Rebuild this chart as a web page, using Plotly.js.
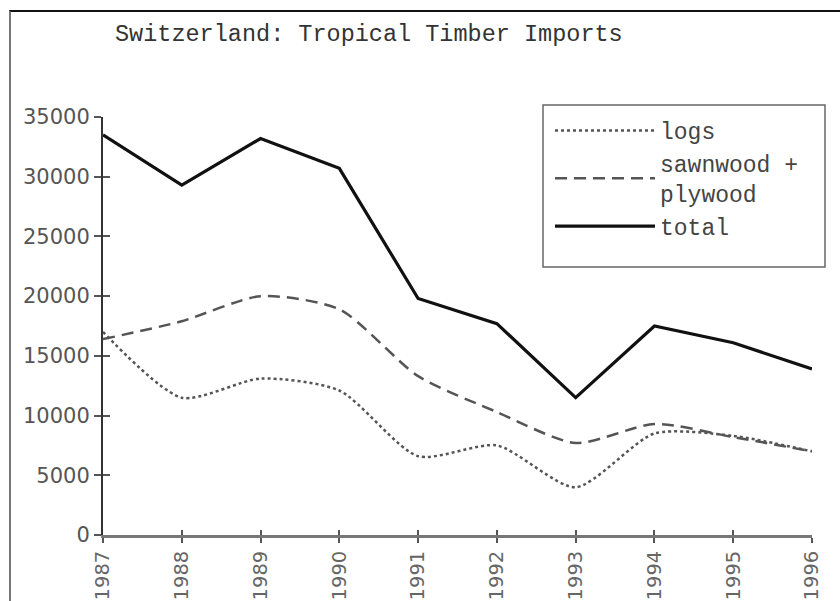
<!DOCTYPE html>
<html>
<head>
<meta charset="utf-8">
<script src="https://cdn.plot.ly/plotly-3.0.1.min.js"></script>
<style>
  html, body { margin: 0; padding: 0; background: #fff; }
  #wrap { position: relative; width: 840px; height: 601px; overflow: hidden; }
  #chart { width: 840px; height: 601px; }
  #frame { position: absolute; left: 9px; top: 10px; right: -5px; bottom: -5px;
           border-top: 2px solid #111; border-left: 2px solid #777; pointer-events: none; }
</style>
</head>
<body>
<div id="wrap"><div id="chart"></div><div id="frame"></div></div>
<script>
const years = [1987, 1988, 1989, 1990, 1991, 1992, 1993, 1994, 1995, 1996];
const yearLabels = ['1987', '1988', '1989', '1990', '1991', '1992', '1993', '1994', '1995', '1996'];
const logs = [17000, 11500, 13100, 12100, 6600, 7500, 4000, 8500, 8300, 7000];
const sawnPly = [16400, 17900, 20000, 18900, 13300, 10300, 7700, 9300, 8200, 7000];
const total = [33500, 29300, 33200, 30700, 19800, 17700, 11500, 17500, 16100, 13900];
const seriesNames = ['logs', 'sawnwood +<br>plywood', 'total'];
const titleText = 'Switzerland: Tropical Timber Imports';

const mono = 'Liberation Mono, Courier New, monospace';
const sans = 'DejaVu Sans, Arial, sans-serif';

// plot-area geometry helpers (pixels -> paper)
const L = 103, R = 28, T = 117, B = 66, W = 840, H = 601;
const pw = W - L - R, ph = H - T - B;
const px = v => (v - L) / pw;
const py = v => (H - B - v) / ph;

const traces = [
  { x: years, y: logs, name: seriesNames[0], type: 'scatter', mode: 'lines',
    line: { color: '#555', width: 2.5, dash: 'dot', shape: 'spline', smoothing: 0.7 } },
  { x: years, y: sawnPly, name: seriesNames[1], type: 'scatter', mode: 'lines',
    line: { color: '#555', width: 2.5, dash: '12px,7px', shape: 'spline', smoothing: 0.7 } },
  { x: years, y: total, name: seriesNames[2], type: 'scatter', mode: 'lines',
    xaxis: 'x2', yaxis: 'y2',
    line: { color: '#111', width: 3.2 } }
];

const layout = {
  width: W, height: H,
  margin: { l: L, r: R, t: T, b: B },
  paper_bgcolor: '#fff', plot_bgcolor: '#fff',
  showlegend: true,
  title: { text: titleText, x: 115 / W, xanchor: 'left', y: 1 - 33 / H, yanchor: 'middle',
           font: { family: mono, size: 23.5, color: '#333' } },
  xaxis: {
    range: [1987, 1996], tickvals: years, ticktext: yearLabels, tickangle: -90,
    showgrid: false, zeroline: false, showline: true, linecolor: '#777', linewidth: 3,
    ticks: 'outside', ticklen: 5, tickwidth: 2, tickcolor: '#555',
    tickfont: { family: sans, size: 19.5, color: '#666' }, fixedrange: true
  },
  yaxis: {
    range: [0, 35000], dtick: 5000, tick0: 0, tickformat: 'd',
    showgrid: false, zeroline: false, showline: true, linecolor: '#333', linewidth: 2,
    ticks: 'outside', ticklen: 7, tickwidth: 2, tickcolor: '#555',
    tickfont: { family: sans, size: 21, color: '#555' }, fixedrange: true
  },
  yaxis2: {
    overlaying: 'y', side: 'left', range: [0, 35000], dtick: 5000, tick0: 0,
    showgrid: false, zeroline: false, showline: false, showticklabels: false,
    ticks: 'inside', ticklen: 7, tickwidth: 2, tickcolor: '#555', fixedrange: true
  },
  xaxis2: {
    overlaying: 'x', side: 'bottom', range: [1987, 1996], tickvals: years,
    showgrid: false, zeroline: false, showline: false, showticklabels: false,
    ticks: 'inside', ticklen: 5, tickwidth: 2, tickcolor: '#555', fixedrange: true
  },
  shapes: [
    { type: 'rect', xref: 'paper', yref: 'paper', layer: 'above',
      x0: px(543), x1: px(825), y0: py(267), y1: py(105),
      line: { color: '#666', width: 1.5 }, fillcolor: '#fff' }
  ],
  legend: {
    x: px(550), y: py(109), xanchor: 'left', yanchor: 'top',
    bgcolor: 'rgba(0,0,0,0)', borderwidth: 0,
    itemwidth: 100,
    font: { family: mono, size: 23, color: '#444' }
  }
};

Plotly.newPlot('chart', traces, layout, { staticPlot: true, displayModeBar: false });
</script>
</body>
</html>
